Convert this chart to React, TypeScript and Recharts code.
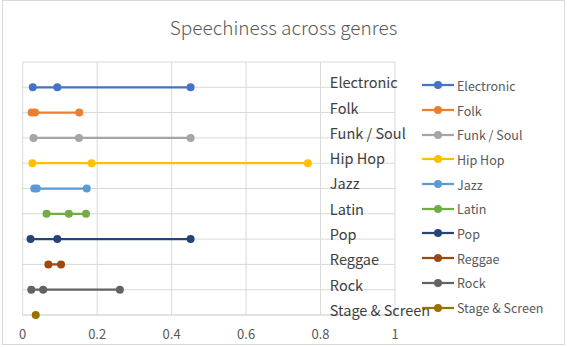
import React from 'react';
import { ComposedChart, Line, XAxis, YAxis, CartesianGrid, LabelList } from 'recharts';

const genres = ['Electronic', 'Folk', 'Funk / Soul', 'Hip Hop', 'Jazz', 'Latin', 'Pop', 'Reggae', 'Rock', 'Stage & Screen'];

// speechiness values per genre
const electronic = [0.027, 0.093, 0.451];
const folk = [0.024, 0.033, 0.152];
const funkSoul = [0.029, 0.151, 0.451];
const hipHop = [0.026, 0.185, 0.766];
const jazz = [0.031, 0.038, 0.172];
const latin = [0.064, 0.124, 0.17];
const pop = [0.021, 0.093, 0.451];
const reggae = [0.069, 0.103];
const rock = [0.023, 0.055, 0.261];
const stageScreen = [0.035];

const xTicks = [0, 0.2, 0.4, 0.6, 0.8, 1];

const COLORS = ['#4472C4', '#ED7D31', '#A5A5A5', '#FFC000', '#5B9BD5', '#70AD47', '#264478', '#9E480E', '#636363', '#997300'];

const values = [electronic, folk, funkSoul, hipHop, jazz, latin, pop, reggae, rock, stageScreen];
const levelOf = (i: number) => genres.length - 1 - i;

const series = genres.map((name, i) => ({
  name,
  color: COLORS[i],
  data: values[i].map((v) => ({ x: v, y: levelOf(i) })),
}));

const LABEL_X = 0.825;
const labelData = genres.map((name, i) => ({ x: LABEL_X, y: levelOf(i), name }));

const FONT = '"Noto Sans CJK SC", "Noto Sans", sans-serif';

const CategoryLabel = (props: any) => {
  const { x, y, value } = props;
  return (
    <text x={x} y={y - 3} fill="#404040" fontSize={14.5} textAnchor="start" dominantBaseline="middle" fontFamily={FONT}>
      {value}
    </text>
  );
};

const LegendBox = () => (
  <div style={{ position: 'absolute', left: 421, top: 73, fontFamily: FONT }}>
    {series.map((s) => (
      <div key={s.name} style={{ display: 'flex', alignItems: 'center', height: 24.7 }}>
        <svg width={34} height={10}>
          <line x1={1} y1={5} x2={33} y2={5} stroke={s.color} strokeWidth={2.25} />
          <circle cx={17} cy={5} r={4} fill={s.color} />
        </svg>
        <span style={{ fontSize: 12.5, color: '#595959', marginLeft: 2 }}>{s.name}</span>
      </div>
    ))}
  </div>
);

export default function App() {
  return (
    <div style={{ position: 'absolute', left: 0, top: 0, width: 567, height: 347, background: '#fff', fontFamily: FONT }}>
      <div style={{ position: 'absolute', left: 2, top: 0, width: 563, height: 345, border: '1px solid #d9d9d9', boxSizing: 'border-box' }} />
      <div style={{ position: 'absolute', left: 0, top: 13, width: 567, textAlign: 'center', fontSize: 19, fontWeight: 300, color: '#595959' }}>
        Speechiness across genres
      </div>
      <ComposedChart width={567} height={347} margin={{ top: 62, left: 22.7, right: 172, bottom: 0 }} style={{ position: 'absolute', left: 0, top: 0 }}>
        <CartesianGrid stroke="#d9d9d9" strokeWidth={1} horizontalValues={[0, 1, 2, 3, 4, 5, 6, 7, 8, 9, 10]} verticalValues={xTicks} />
        <XAxis
          type="number"
          dataKey="x"
          domain={[0, 1]}
          ticks={xTicks}
          height={32}
          tickLine={false}
          axisLine={{ stroke: '#d9d9d9' }}
          tick={{ fill: '#595959', fontSize: 13, fontFamily: FONT }}
          tickMargin={9}
          allowDataOverflow
        />
        <YAxis type="number" dataKey="y" domain={[0, 10]} hide width={0} />
        {series.map((s) => (
          <Line
            key={s.name}
            data={s.data}
            dataKey="y"
            name={s.name}
            stroke={s.color}
            strokeWidth={2.25}
            dot={{ r: 4, fill: s.color, stroke: s.color, strokeWidth: 0 }}
            activeDot={false}
            isAnimationActive={false}
          />
        ))}
        <Line data={labelData} dataKey="y" stroke="none" dot={false} activeDot={false} legendType="none" isAnimationActive={false}>
          <LabelList dataKey="name" content={<CategoryLabel />} />
        </Line>
      </ComposedChart>
      <LegendBox />
    </div>
  );
}
